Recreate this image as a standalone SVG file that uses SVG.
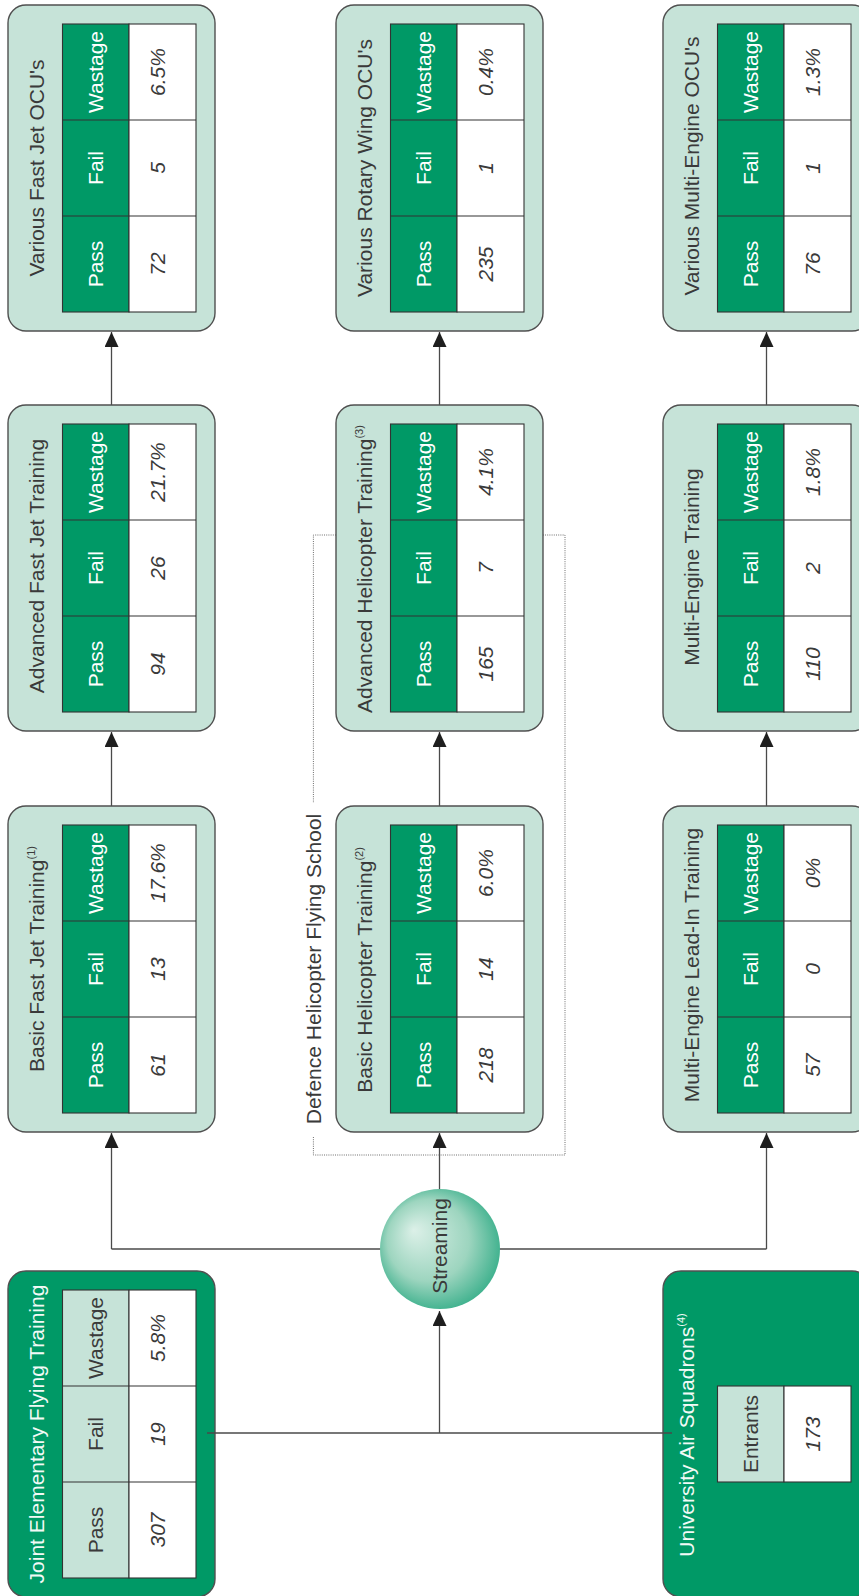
<svg xmlns="http://www.w3.org/2000/svg" width="859" height="1596" viewBox="0 0 859 1596">
<style>
text{font-family:"Liberation Sans",Arial,Helvetica,sans-serif;font-size:21px;text-anchor:middle;fill:#3a3a3a}
.box{fill:#c6e3d8;stroke:#505050;stroke-width:1.4}
.dbox{fill:#009966;stroke:#505050;stroke-width:1.4}
.hd{fill:#009966;stroke:#333;stroke-width:1.1}
.hl{fill:#c6e3d8;stroke:#333;stroke-width:1.1}
.vl{fill:#fff;stroke:#333;stroke-width:1.1}
.sep{stroke:#333;stroke-width:1.1}
.ht{fill:#fff}
.val{font-style:italic}
.wt{fill:#f2faf6}
.sup{font-size:11px}
.con{fill:none;stroke:#4a4a4a;stroke-width:1.3}
.dot{fill:none;stroke:#6e6e6e;stroke-width:1;stroke-dasharray:1 1.2}
</style>
<defs>
<marker id="arr" markerUnits="userSpaceOnUse" viewBox="0 0 15 14" refX="15" refY="7" markerWidth="15" markerHeight="14" orient="auto">
<path d="M0,0 L15,7 L0,14 z" fill="#1e1e1e"/>
</marker>
<radialGradient id="sg" cx="0.5" cy="0.5" r="0.62" fx="0.28" fy="0.34">
<stop offset="0" stop-color="#dcf0e8"/>
<stop offset="0.55" stop-color="#9dd5bf"/>
<stop offset="1" stop-color="#1aa37a"/>
</radialGradient>
</defs>

<g id="connectors">
<path class="con" d="M111.5,1249 H766.5"/>
<path class="con" d="M111.5,1249 V1133" marker-end="url(#arr)"/>
<path class="con" d="M766.5,1249 V1133" marker-end="url(#arr)"/>
<path class="con" d="M439.5,1190 V1133" marker-end="url(#arr)"/>
<path class="con" d="M111.5,806 V732" marker-end="url(#arr)"/>
<path class="con" d="M439.5,806 V732" marker-end="url(#arr)"/>
<path class="con" d="M766.5,806 V732" marker-end="url(#arr)"/>
<path class="con" d="M111.5,405 V332" marker-end="url(#arr)"/>
<path class="con" d="M439.5,405 V332" marker-end="url(#arr)"/>
<path class="con" d="M766.5,405 V332" marker-end="url(#arr)"/>
<path class="con" d="M439.5,1433 V1311" marker-end="url(#arr)"/>
</g>

<g id="dhfs">
<path class="dot" d="M336,535 H313.4 V803 M313.4,1137 V1155 H565 V535 H542.7"/>
<text transform="translate(321,969) rotate(-90)">Defence Helicopter Flying School</text>
</g>

<!-- Row A -->
<g id="fj-ocu">
<rect class="box" x="8" y="5" width="207" height="326" rx="18"/>
<rect class="hd" x="62.5" y="24" width="66.5" height="288"/>
<rect class="vl" x="129" y="24" width="67" height="288"/>
<path class="sep" d="M62.5,120 H196 M62.5,216 H196"/>
<text transform="translate(43.5,168) rotate(-90)">Various Fast Jet OCU's</text>
<text class="ht" transform="translate(103,72) rotate(-90)">Wastage</text>
<text class="ht" transform="translate(103,168) rotate(-90)">Fail</text>
<text class="ht" transform="translate(103,264) rotate(-90)">Pass</text>
<text class="val" transform="translate(165,72) rotate(-90)">6.5%</text>
<text class="val" transform="translate(165,168) rotate(-90)">5</text>
<text class="val" transform="translate(165,264) rotate(-90)">72</text>
</g>
<g id="rw-ocu">
<rect class="box" x="336" y="5" width="207" height="326" rx="18"/>
<rect class="hd" x="390.5" y="24" width="66.5" height="288"/>
<rect class="vl" x="457" y="24" width="67" height="288"/>
<path class="sep" d="M390.5,120 H524 M390.5,216 H524"/>
<text transform="translate(371.5,168) rotate(-90)">Various Rotary Wing OCU's</text>
<text class="ht" transform="translate(431,72) rotate(-90)">Wastage</text>
<text class="ht" transform="translate(431,168) rotate(-90)">Fail</text>
<text class="ht" transform="translate(431,264) rotate(-90)">Pass</text>
<text class="val" transform="translate(493,72) rotate(-90)">0.4%</text>
<text class="val" transform="translate(493,168) rotate(-90)">1</text>
<text class="val" transform="translate(493,264) rotate(-90)">235</text>
</g>
<g id="me-ocu">
<rect class="box" x="663" y="5" width="207" height="326" rx="18"/>
<rect class="hd" x="717.5" y="24" width="66.5" height="288"/>
<rect class="vl" x="784" y="24" width="67" height="288"/>
<path class="sep" d="M717.5,120 H851 M717.5,216 H851"/>
<text transform="translate(698.5,166) rotate(-90)">Various Multi-Engine OCU's</text>
<text class="ht" transform="translate(758,72) rotate(-90)">Wastage</text>
<text class="ht" transform="translate(758,168) rotate(-90)">Fail</text>
<text class="ht" transform="translate(758,264) rotate(-90)">Pass</text>
<text class="val" transform="translate(820,72) rotate(-90)">1.3%</text>
<text class="val" transform="translate(820,168) rotate(-90)">1</text>
<text class="val" transform="translate(820,264) rotate(-90)">76</text>
</g>

<!-- Row B -->
<g id="afjt">
<rect class="box" x="8" y="405" width="207" height="326" rx="18"/>
<rect class="hd" x="62.5" y="424" width="66.5" height="288"/>
<rect class="vl" x="129" y="424" width="67" height="288"/>
<path class="sep" d="M62.5,520 H196 M62.5,616 H196"/>
<text transform="translate(43.5,566) rotate(-90)">Advanced Fast Jet Training</text>
<text class="ht" transform="translate(103,472) rotate(-90)">Wastage</text>
<text class="ht" transform="translate(103,568) rotate(-90)">Fail</text>
<text class="ht" transform="translate(103,664) rotate(-90)">Pass</text>
<text class="val" transform="translate(165,472) rotate(-90)">21.7%</text>
<text class="val" transform="translate(165,568) rotate(-90)">26</text>
<text class="val" transform="translate(165,664) rotate(-90)">94</text>
</g>
<g id="aht">
<rect class="box" x="336" y="405" width="207" height="326" rx="18"/>
<rect class="hd" x="390.5" y="424" width="66.5" height="288"/>
<rect class="vl" x="457" y="424" width="67" height="288"/>
<path class="sep" d="M390.5,520 H524 M390.5,616 H524"/>
<text transform="translate(371.5,569) rotate(-90)">Advanced Helicopter Training<tspan class="sup" dy="-9">(3)</tspan></text>
<text class="ht" transform="translate(431,472) rotate(-90)">Wastage</text>
<text class="ht" transform="translate(431,568) rotate(-90)">Fail</text>
<text class="ht" transform="translate(431,664) rotate(-90)">Pass</text>
<text class="val" transform="translate(493,472) rotate(-90)">4.1%</text>
<text class="val" transform="translate(493,568) rotate(-90)">7</text>
<text class="val" transform="translate(493,664) rotate(-90)">165</text>
</g>
<g id="met">
<rect class="box" x="663" y="405" width="207" height="326" rx="18"/>
<rect class="hd" x="717.5" y="424" width="66.5" height="288"/>
<rect class="vl" x="784" y="424" width="67" height="288"/>
<path class="sep" d="M717.5,520 H851 M717.5,616 H851"/>
<text transform="translate(698.5,567) rotate(-90)">Multi-Engine Training</text>
<text class="ht" transform="translate(758,472) rotate(-90)">Wastage</text>
<text class="ht" transform="translate(758,568) rotate(-90)">Fail</text>
<text class="ht" transform="translate(758,664) rotate(-90)">Pass</text>
<text class="val" transform="translate(820,472) rotate(-90)">1.8%</text>
<text class="val" transform="translate(820,568) rotate(-90)">2</text>
<text class="val" transform="translate(820,664) rotate(-90)">110</text>
</g>

<!-- Row C -->
<g id="bfjt">
<rect class="box" x="8" y="806" width="207" height="326" rx="18"/>
<rect class="hd" x="62.5" y="825" width="66.5" height="288"/>
<rect class="vl" x="129" y="825" width="67" height="288"/>
<path class="sep" d="M62.5,921 H196 M62.5,1017 H196"/>
<text transform="translate(43.5,959) rotate(-90)">Basic Fast Jet Training<tspan class="sup" dy="-9">(1)</tspan></text>
<text class="ht" transform="translate(103,873) rotate(-90)">Wastage</text>
<text class="ht" transform="translate(103,969) rotate(-90)">Fail</text>
<text class="ht" transform="translate(103,1065) rotate(-90)">Pass</text>
<text class="val" transform="translate(165,873) rotate(-90)">17.6%</text>
<text class="val" transform="translate(165,969) rotate(-90)">13</text>
<text class="val" transform="translate(165,1065) rotate(-90)">61</text>
</g>
<g id="bht">
<rect class="box" x="336" y="806" width="207" height="326" rx="18"/>
<rect class="hd" x="390.5" y="825" width="66.5" height="288"/>
<rect class="vl" x="457" y="825" width="67" height="288"/>
<path class="sep" d="M390.5,921 H524 M390.5,1017 H524"/>
<text transform="translate(371.5,970) rotate(-90)">Basic Helicopter Training<tspan class="sup" dy="-9">(2)</tspan></text>
<text class="ht" transform="translate(431,873) rotate(-90)">Wastage</text>
<text class="ht" transform="translate(431,969) rotate(-90)">Fail</text>
<text class="ht" transform="translate(431,1065) rotate(-90)">Pass</text>
<text class="val" transform="translate(493,873) rotate(-90)">6.0%</text>
<text class="val" transform="translate(493,969) rotate(-90)">14</text>
<text class="val" transform="translate(493,1065) rotate(-90)">218</text>
</g>
<g id="melit">
<rect class="box" x="663" y="806" width="207" height="326" rx="18"/>
<rect class="hd" x="717.5" y="825" width="66.5" height="288"/>
<rect class="vl" x="784" y="825" width="67" height="288"/>
<path class="sep" d="M717.5,921 H851 M717.5,1017 H851"/>
<text transform="translate(698.5,965) rotate(-90)">Multi-Engine Lead-In Training</text>
<text class="ht" transform="translate(758,873) rotate(-90)">Wastage</text>
<text class="ht" transform="translate(758,969) rotate(-90)">Fail</text>
<text class="ht" transform="translate(758,1065) rotate(-90)">Pass</text>
<text class="val" transform="translate(820,873) rotate(-90)">0%</text>
<text class="val" transform="translate(820,969) rotate(-90)">0</text>
<text class="val" transform="translate(820,1065) rotate(-90)">57</text>
</g>

<!-- Streaming -->
<g id="streaming">
<circle cx="440" cy="1249" r="60" fill="url(#sg)"/>
<text transform="translate(447,1246) rotate(-90)">Streaming</text>
</g>

<!-- Row D -->
<g id="jeft">
<rect class="dbox" x="8" y="1271" width="207" height="326" rx="18"/>
<rect class="hl" x="62.5" y="1290" width="66.5" height="288"/>
<rect class="vl" x="129" y="1290" width="67" height="288"/>
<path class="sep" d="M62.5,1386 H196 M62.5,1482 H196"/>
<text class="wt" transform="translate(43.5,1434) rotate(-90)">Joint Elementary Flying Training</text>
<text transform="translate(103,1338) rotate(-90)">Wastage</text>
<text transform="translate(103,1434) rotate(-90)">Fail</text>
<text transform="translate(103,1530) rotate(-90)">Pass</text>
<text class="val" transform="translate(165,1338) rotate(-90)">5.8%</text>
<text class="val" transform="translate(165,1434) rotate(-90)">19</text>
<text class="val" transform="translate(165,1530) rotate(-90)">307</text>
</g>
<g id="uas">
<rect class="dbox" x="663" y="1271" width="207" height="326" rx="18"/>
<rect class="hl" x="717.5" y="1386" width="66.5" height="96"/>
<rect class="vl" x="784" y="1386" width="67" height="96"/>
<text class="wt" transform="translate(694,1435) rotate(-90)">University Air Squadrons<tspan class="sup" dy="-9">(4)</tspan></text>
<text transform="translate(758,1434) rotate(-90)">Entrants</text>
<text class="val" transform="translate(820,1434) rotate(-90)">173</text>
</g>

<g id="connectors-top">
<path class="con" d="M207,1433 H672"/>
</g>
</svg>
